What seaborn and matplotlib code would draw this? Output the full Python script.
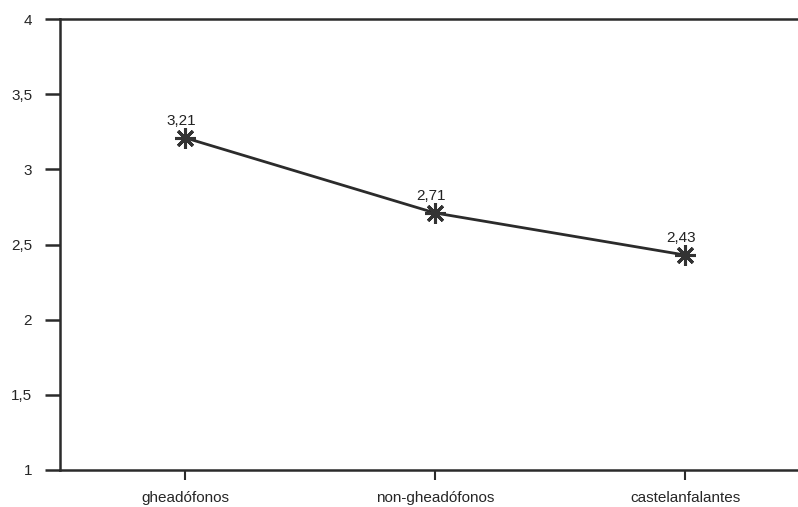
import pandas as pd
import matplotlib.pyplot as plt
import seaborn as sns

# values
groups = ["gheadófonos", "non-gheadófonos", "castelanfalantes"]
means = [3.21, 2.71, 2.43]
y_ticks = [1, 1.5, 2, 2.5, 3, 3.5, 4]

df = pd.DataFrame({"grupo": groups, "media": means})

sns.set_style("white")
plt.rcParams['font.family'] = ['Liberation Sans', 'DejaVu Sans']

fig = plt.figure(figsize=(7.98, 5.07), dpi=100)
ax = fig.add_axes([0.0752, 0.073, 0.9248, 0.8895])

sns.lineplot(data=df, x="grupo", y="media", sort=False, ax=ax,
             color="#2b2b2b", linewidth=2, marker=(8, 2, 0),
             markersize=15, markeredgewidth=2.2, markeredgecolor="#333333")

# value labels above each point
for i, v in enumerate(means):
    ax.annotate(f"{v:.2f}".replace(".", ","), (i, v), xytext=(-3, 7),
                textcoords="offset points", ha="center", va="bottom",
                fontsize=11, color="#222222")

ax.set_xlim(-0.5, 2.452)
ax.set_ylim(1, 4)
ax.set_yticks(y_ticks)
ax.set_yticklabels([f"{t:g}".replace(".", ",") for t in y_ticks])
ax.set_xlabel("")
ax.set_ylabel("")

ax.tick_params(axis="y", direction="out", length=11, width=1.8, color="#2b2b2b",
               pad=9, labelsize=11, left=True)
ax.tick_params(axis="x", direction="out", length=7, width=1.5, color="#2b2b2b",
               pad=8, labelsize=11, bottom=True)

for side in ["left", "top", "bottom"]:
    ax.spines[side].set_color("#2b2b2b")
    ax.spines[side].set_linewidth(1.8)
ax.spines["right"].set_visible(False)

fig.savefig("out.png", dpi=100)
